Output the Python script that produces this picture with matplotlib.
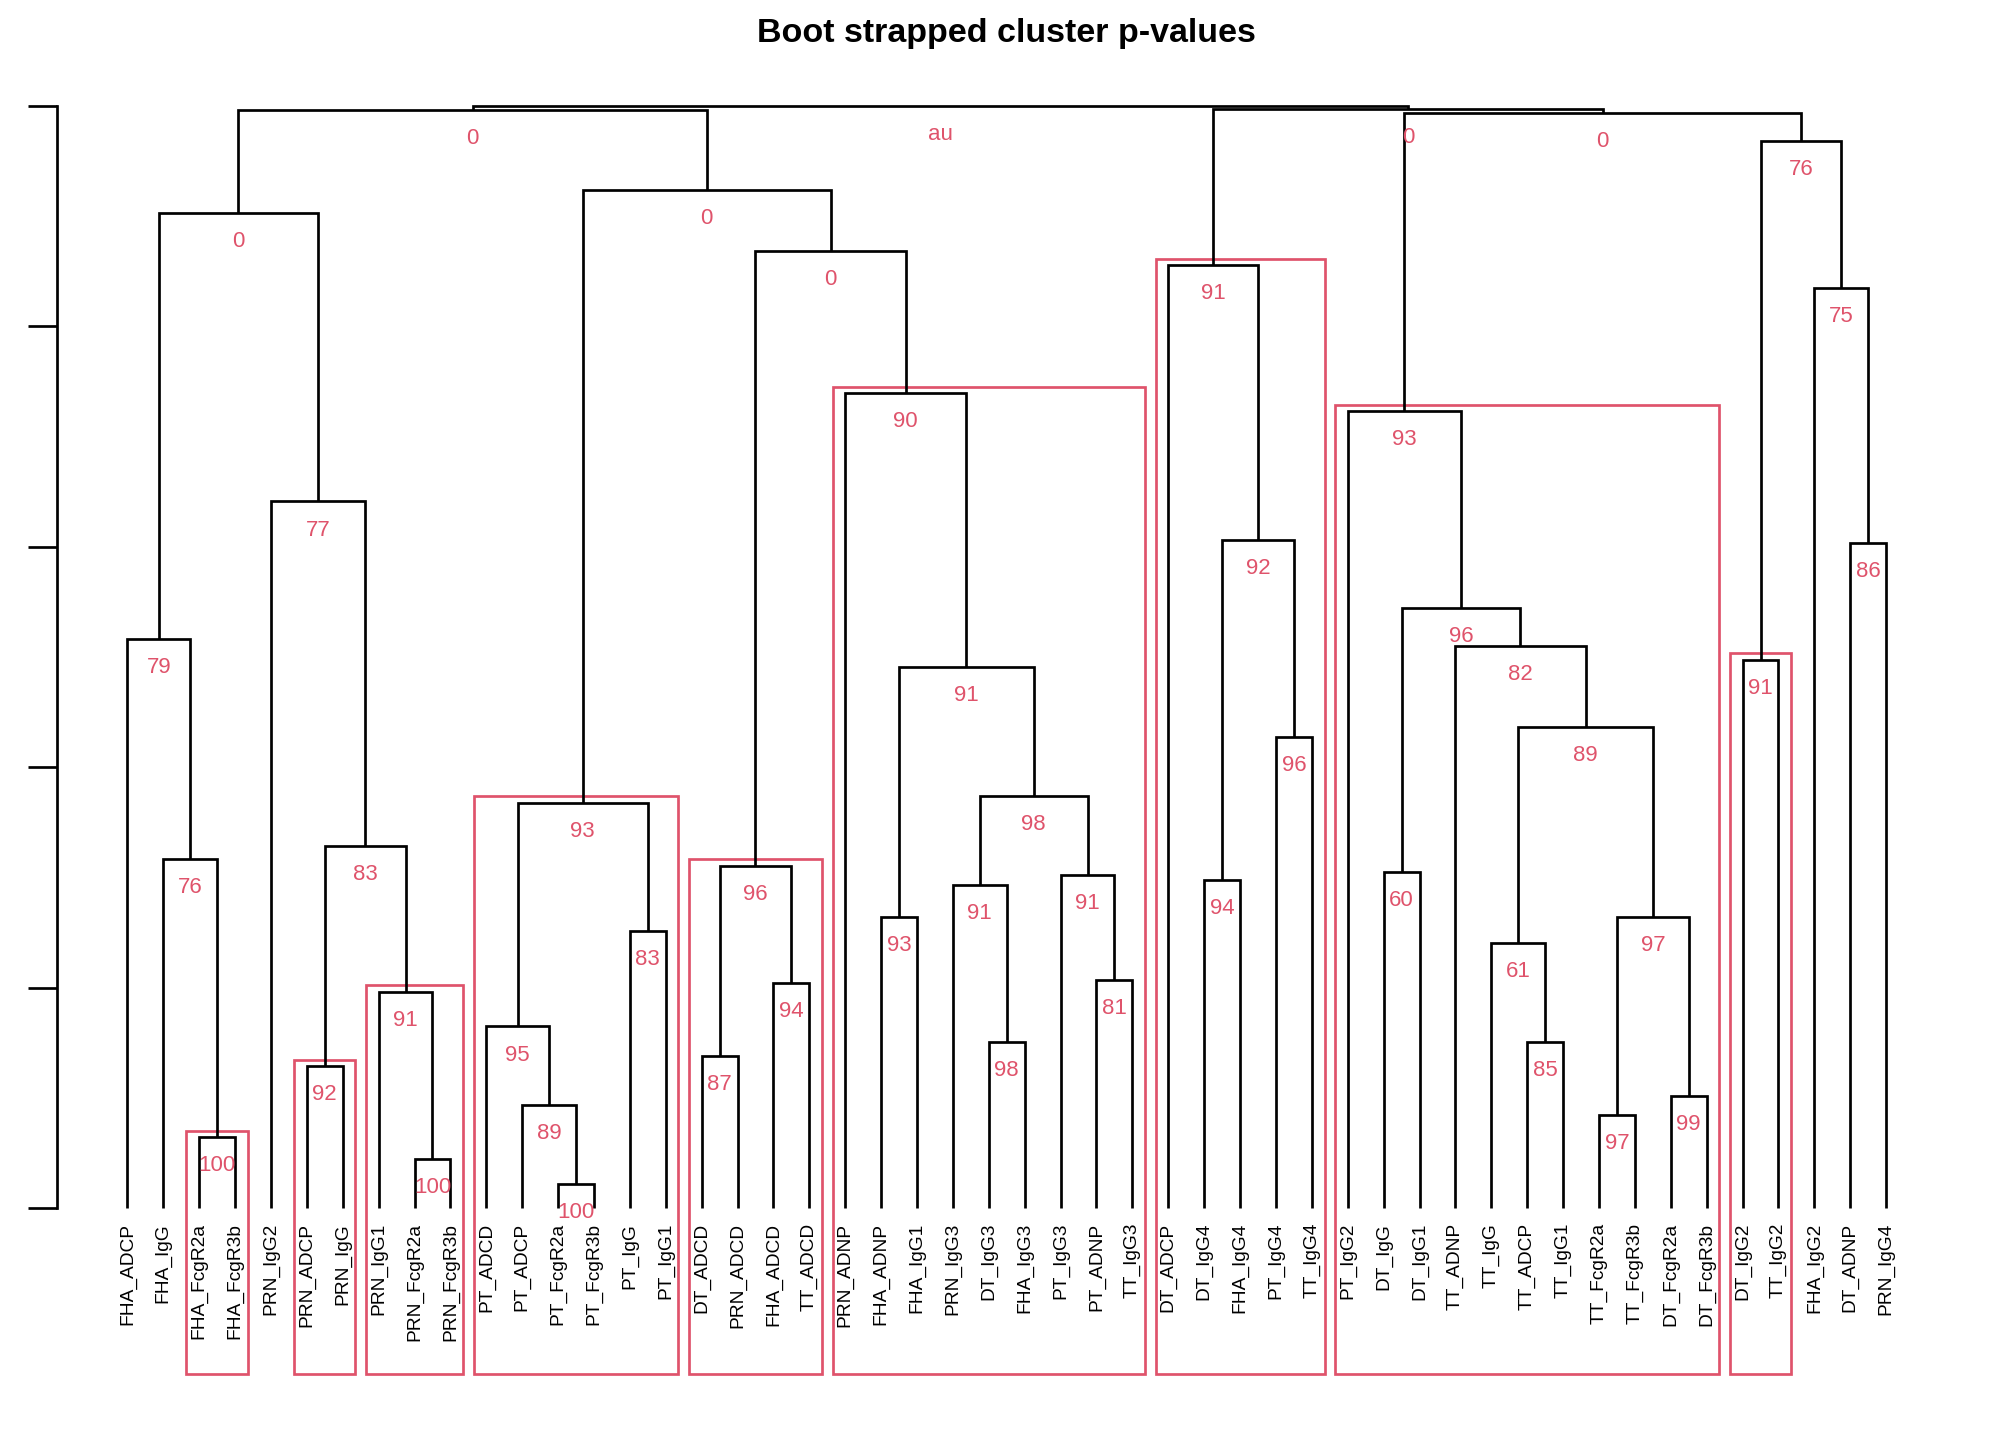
import matplotlib
matplotlib.use("Agg")
import matplotlib.pyplot as plt
from matplotlib.patches import Rectangle
import numpy as np

plt.rcParams['font.family'] = ['Liberation Sans', 'DejaVu Sans']

# ---------------- data ----------------
leaf_labels = [
    "FHA_ADCP", "FHA_IgG", "FHA_FcgR2a", "FHA_FcgR3b", "PRN_IgG2", "PRN_ADCP", "PRN_IgG",
    "PRN_IgG1", "PRN_FcgR2a", "PRN_FcgR3b", "PT_ADCD", "PT_ADCP", "PT_FcgR2a", "PT_FcgR3b",
    "PT_IgG", "PT_IgG1", "DT_ADCD", "PRN_ADCD", "FHA_ADCD", "TT_ADCD", "PRN_ADNP", "FHA_ADNP",
    "FHA_IgG1", "PRN_IgG3", "DT_IgG3", "FHA_IgG3", "PT_IgG3", "PT_ADNP", "TT_IgG3", "DT_ADCP",
    "DT_IgG4", "FHA_IgG4", "PT_IgG4", "TT_IgG4", "PT_IgG2", "DT_IgG", "DT_IgG1", "TT_ADNP",
    "TT_IgG", "TT_ADCP", "TT_IgG1", "TT_FcgR2a", "TT_FcgR3b", "DT_FcgR2a", "DT_FcgR3b",
    "DT_IgG2", "TT_IgG2", "FHA_IgG2", "DT_ADNP", "PRN_IgG4",
]

# hclust-style merge table: negative = leaf (1-based, in plotting order), positive = earlier merge row
merge_left = [-3, -2, -1, -6, -9, -8, 4, -5, 3, -13, -12, -11, -15, 12, -17, -19, 15, -25, -24,
              -28, -27, 19, -22, 23, -21, 17, 14, 9, -31, -33, 29, -30, -36, -40, -39, -42, -44,
              36, 35, -38, 33, -35, -46, -49, -48, 43, 42, 32, 28]
merge_right = [-4, 1, 2, -7, -10, 5, 6, 7, 8, -14, 10, 11, -16, 13, -18, -20, 16, -26, 18,
               -29, 20, 21, -23, 22, 24, 25, 26, 27, -32, -34, 30, 31, -37, -41, 34, -43, -45,
               37, 38, 39, 40, 41, -47, -50, 44, 45, 46, 47, 48]
merge_height = [0.0642, 0.3165, 0.5162, 0.1285, 0.0444, 0.1962, 0.3282, 0.6411, 0.9027,
                0.0222, 0.0934, 0.1647, 0.2511, 0.3679, 0.1378, 0.2044, 0.3106, 0.1506,
                0.2931, 0.2067, 0.3025, 0.3737, 0.2639, 0.4905, 0.7392, 0.8688, 0.9237,
                0.9966, 0.2978, 0.4274, 0.6061, 0.8556, 0.3048, 0.1506, 0.2406, 0.0841,
                0.1016, 0.2639, 0.4368, 0.5103, 0.5442, 0.7229, 0.4975, 0.6038, 0.8350,
                0.9683, 0.9938, 0.9975, 1.0000]
merge_au = [100, 76, 79, 92, 100, 91, 83, 77, 0, 100, 89, 95, 83, 93, 87, 94, 96, 98, 91,
            81, 91, 98, 93, 91, 90, 0, 0, 0, 94, 96, 92, 91, 60, 85, 61, 97, 99, 97, 89,
            82, 96, 93, 91, 86, 75, 76, 0, 0, None]

title = "Boot strapped cluster p-values"
yticks = [0.0, 0.2, 0.4, 0.6, 0.8, 1.0]
alpha_rect = 90

RED = "#DF536B"
LW = 1.95

# ---------------- figure ----------------
W, H = 2016, 1440
fig = plt.figure(figsize=(W / 100, H / 100), dpi=100)
ax = fig.add_axes([57 / W, 1 - 1381 / H, 1899.5 / W, (1381 - 61.9) / H])
n = len(leaf_labels)
xlim = (1 - 0.04 * (n - 1), n + 0.04 * (n - 1))
ylim = (-0.157, 1.04)
ax.set_xlim(*xlim)
ax.set_ylim(*ylim)

pos = {}
hgt = {}
members = {}


def node(c):
    if c < 0:
        return float(-c), 0.0, [-c]
    return pos[c], hgt[c], members[c]


for i in range(len(merge_left)):
    r = i + 1
    x1, h1, m1 = node(merge_left[i])
    x2, h2, m2 = node(merge_right[i])
    h = merge_height[i]
    ax.plot([x1, x1, x2, x2], [h1, h, h, h2], color="black", lw=LW,
            solid_joinstyle="miter", solid_capstyle="butt", zorder=3)
    pos[r] = (x1 + x2) / 2
    hgt[r] = h
    members[r] = m1 + m2

# leaf labels
for k, lab in enumerate(leaf_labels):
    ax.annotate(lab, (k + 1, 0), xytext=(0, -10.8), textcoords="offset points",
                rotation=90, ha="center", va="top", fontsize=13.8, color="black",
                annotation_clip=False)

# au labels
for i in range(len(merge_left)):
    r = i + 1
    txt = "au" if merge_au[i] is None else str(merge_au[i])
    ax.annotate(txt, (pos[r], hgt[r]), xytext=(0, -24.5), textcoords="offset points",
                ha="center", va="baseline", fontsize=16, color=RED, zorder=4,
                annotation_clip=False)

# pvrect-style rectangles (max.only)
mx = (xlim[1] - xlim[0]) / n / 3
my = (ylim[1] - ylim[0]) / 200
taken = set()
for i in range(len(merge_left) - 2, -1, -1):
    au = merge_au[i]
    if au is not None and au >= alpha_rect:
        ma = members[i + 1]
        if not (set(ma) & taken):
            xl, xr = min(ma), max(ma)
            yb = ylim[0] + my
            yt = merge_height[i] + my
            ax.add_patch(Rectangle((xl - mx, yb), (xr - xl) + 2 * mx, yt - yb,
                                   fill=False, edgecolor=RED, lw=LW, zorder=2,
                                   joinstyle="miter"))
        taken.update(ma)

# axis
for s in ["top", "right", "bottom"]:
    ax.spines[s].set_visible(False)
ax.spines["left"].set_bounds(yticks[0], yticks[-1])
ax.spines["left"].set_linewidth(LW)
ax.set_xticks([])
ax.set_yticks(yticks)
ax.set_yticklabels([])
ax.tick_params(axis="y", direction="out", length=21, width=LW, color="black")

fig.text((57 + 1956.5) / 2 / W, 1 - 41.7 / H, title, ha="center", va="baseline",
         fontsize=24.5, fontweight="bold")

fig.savefig("out.png", dpi=100)
